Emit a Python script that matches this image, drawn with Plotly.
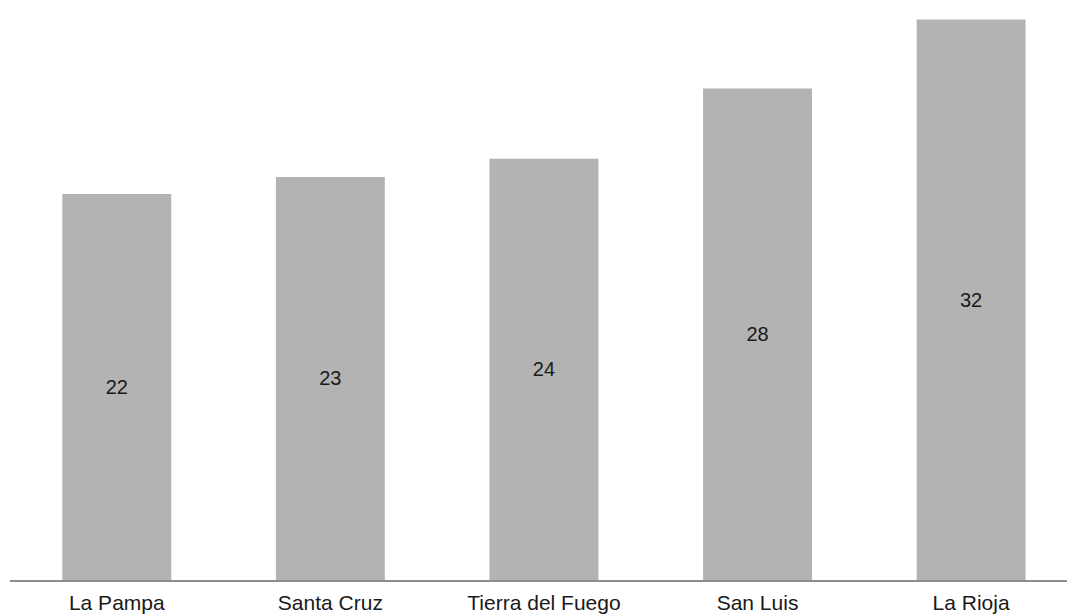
import plotly.graph_objects as go

categories = ["La Pampa", "Santa Cruz", "Tierra del Fuego", "San Luis", "La Rioja"]
values = [22.0, 22.97, 24.0, 28.0, 31.94]
labels = ["22", "23", "24", "28", "32"]

fig = go.Figure(go.Bar(
    x=categories, y=values, text=labels,
    textposition="inside", insidetextanchor="middle",
    textfont=dict(family="Liberation Sans, Arial", size=20, color="#1a1a1a"),
    marker=dict(color="#b3b3b3", line=dict(width=0)),
    cliponaxis=False, hoverinfo="skip",
))
fig.update_layout(
    width=1067, height=615,
    margin=dict(l=10, r=0, t=0, b=35),
    paper_bgcolor="white", plot_bgcolor="white",
    bargap=0.49, showlegend=False,
    font=dict(family="Liberation Sans, Arial", size=21, color="#1a1a1a"),
)
fig.update_xaxes(
    range=[-0.5, 4.449], showline=True, linecolor="#8c8c8c", linewidth=2,
    ticks="", showgrid=False, tickfont=dict(size=21), ticklabelstandoff=3,
)
fig.update_yaxes(range=[0, 33.05], visible=False, showgrid=False)
fig.write_html(
    "out.html",
    config={"displayModeBar": False},
    post_script="document.body.style.margin='0';document.body.style.overflow='hidden';",
)
